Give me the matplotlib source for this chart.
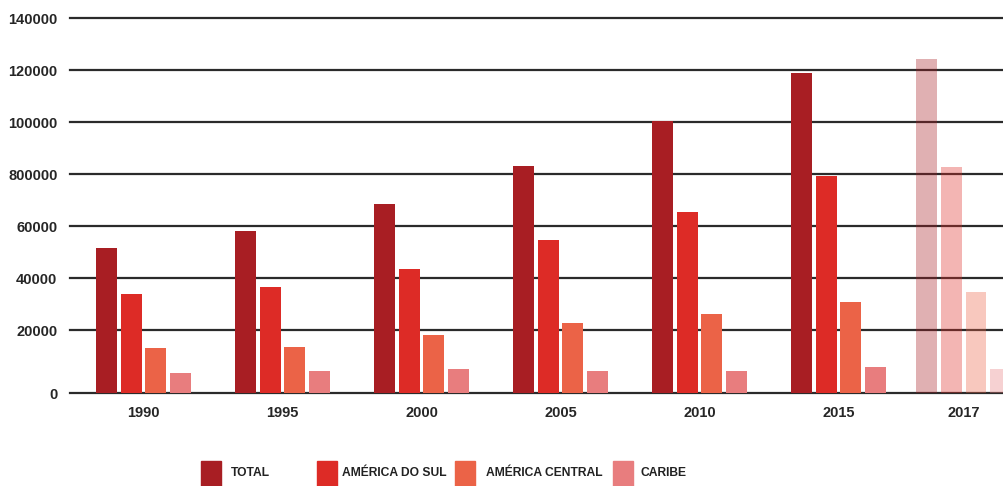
import numpy as np
import matplotlib
matplotlib.use("Agg")
import matplotlib.pyplot as plt
from matplotlib.colors import to_rgba
from matplotlib.patches import Rectangle

# data
years = ["1990", "1995", "2000", "2005", "2010", "2015", "2017"]
total = [51600, 58200, 68400, 83200, 100200, 118700, 124100]
america_sul = [33700, 36600, 43400, 54600, 65500, 79200, 82500]
america_central = [14400, 14700, 18300, 22600, 26200, 30900, 34500]
caribe = [6400, 6900, 7700, 7100, 7100, 8200, 7600]

series_names = ["TOTAL", "AMÉRICA DO SUL", "AMÉRICA CENTRAL", "CARIBE"]
series_colors = ["#a81e23", "#dd2b26", "#eb6347", "#e87d7e"]

ytick_vals = [0, 20000, 40000, 60000, 80000, 100000, 120000, 140000]
ytick_labels = ["0", "20000", "40000", "60000", "800000", "100000", "120000", "140000"]

# the source axis gives the first step (0-20000) more room than the others
K = 63 / 52


def forward(v):
    v = np.asarray(v, dtype=float)
    return np.where(v < 20000, v * K, v + 20000 * (K - 1))


def inverse(t):
    t = np.asarray(t, dtype=float)
    return np.where(t < 20000 * K, t / K, t - 20000 * (K - 1))


plt.rcParams['font.family'] = ['Liberation Sans', 'DejaVu Sans']

W, H = 1004, 486
fig = plt.figure(figsize=(W / 100, H / 100), dpi=100)

ax_bottom = (H - 393) / H
ax_height = 380.2 / H
ax = fig.add_axes([70 / W, ax_bottom, 1 - 70 / W, ax_height])
ax.set_yscale('function', functions=(forward, inverse))
ax.set_ylim(0, 142000)
ax.set_xlim(-0.53, 6.19)

x = np.arange(len(years), dtype=float)
x[-1] = 5.9   # last group sits a bit closer in the original

offsets = [-0.265, -0.088, 0.088, 0.265]
width = 0.15
alphas = [1.0] * (len(years) - 1) + [0.35]

for vals, off, col in zip([total, america_sul, america_central, caribe], offsets, series_colors):
    cols = [to_rgba(col, a) for a in alphas]
    ax.bar(x + off, vals, width=width, color=cols, zorder=2, linewidth=0)

for v in ytick_vals:
    ax.axhline(v, color="#2b2b2b", linewidth=1.6, zorder=1, clip_on=False)

for s in ax.spines.values():
    s.set_visible(False)

ax.set_yticks(ytick_vals)
ax.set_yticklabels(ytick_labels)
ax.yaxis.set_minor_locator(matplotlib.ticker.NullLocator())
ax.set_xticks(x)
ax.set_xticklabels(years)
ax.tick_params(axis='both', length=0, labelsize=10.5, colors="#262626")
ax.tick_params(axis='y', pad=9)
ax.tick_params(axis='x', pad=9)
for lbl in ax.get_xticklabels() + ax.get_yticklabels():
    lbl.set_fontweight('bold')

# legend along the bottom edge (partly cut off like the source)
leg_sq_x = [201, 317, 455, 613]
leg_txt_x = [231, 342, 486, 641]
for name, col, sx, tx in zip(series_names, series_colors, leg_sq_x, leg_txt_x):
    fig.patches.append(Rectangle((sx / W, 0), 20 / W, (H - 461) / H,
                                 transform=fig.transFigure, color=col))
    fig.text(tx / W, (H - 473) / H, name, fontsize=8.7, fontweight='bold',
             color="#222222", va='center', ha='left')

fig.savefig("out.png", dpi=100)
